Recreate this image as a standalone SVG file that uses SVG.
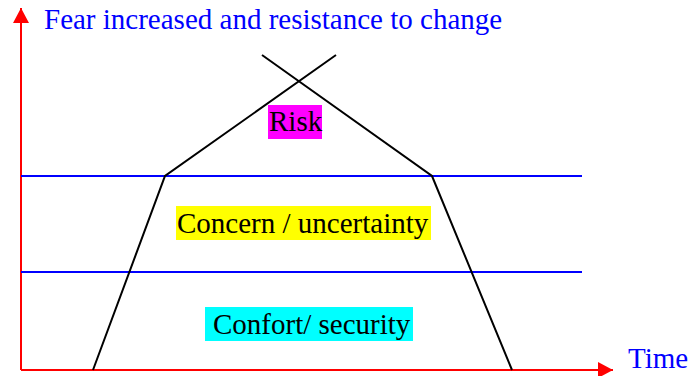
<svg xmlns="http://www.w3.org/2000/svg" width="691" height="376" viewBox="0 0 691 376">
  <style>
    .axis { stroke: #ff0000; stroke-width: 2; fill: none; }
    .level { stroke: #0000ff; stroke-width: 2; fill: none; }
    .curve { stroke: #000000; stroke-width: 2; fill: none; }
    .title { font-family: "Liberation Serif", "Times New Roman", serif; font-size: 29px; fill: #0000ff; }
    .zone { font-family: "Liberation Serif", "Times New Roman", serif; font-size: 29px; fill: #000000; }
  </style>
  <defs>
    <marker id="arrow" markerWidth="16" markerHeight="16" refX="15" refY="8" orient="auto" markerUnits="userSpaceOnUse">
      <path d="M0,0 L15,8 L0,16 Z" fill="#ff0000"/>
    </marker>
  </defs>

  <!-- axes -->
  <g id="connectors">
    <line class="axis" x1="21" y1="370" x2="21" y2="8" marker-end="url(#arrow)"/>
    <line class="axis" x1="21" y1="370" x2="613" y2="370" marker-end="url(#arrow)"/>
    <!-- level boundaries -->
    <line class="level" x1="21" y1="176" x2="582" y2="176"/>
    <line class="level" x1="21" y1="272" x2="582" y2="272"/>
    <!-- tolerance outline -->
    <polyline class="curve" points="93,370 165,176 336,55"/>
    <polyline class="curve" points="262,55 432,176 512,370"/>
  </g>

  <g id="y-label">
    <text class="title" x="44" y="29">Fear increased and resistance to change</text>
  </g>
  <g id="x-label">
    <text class="title" x="628" y="368">Time</text>
  </g>

  <g id="risk">
    <rect x="268" y="105" width="54" height="34" fill="#ff00ff"/>
    <text class="zone" x="269" y="131">Risk</text>
  </g>
  <g id="concern">
    <rect x="176" y="206" width="255" height="34" fill="#ffff00"/>
    <text class="zone" x="177" y="233" fill="#333333">Concern / uncertainty</text>
  </g>
  <g id="comfort">
    <rect x="205" y="307" width="208" height="34" fill="#00ffff"/>
    <text class="zone" x="213" y="334">Confort/ security</text>
  </g>
</svg>
